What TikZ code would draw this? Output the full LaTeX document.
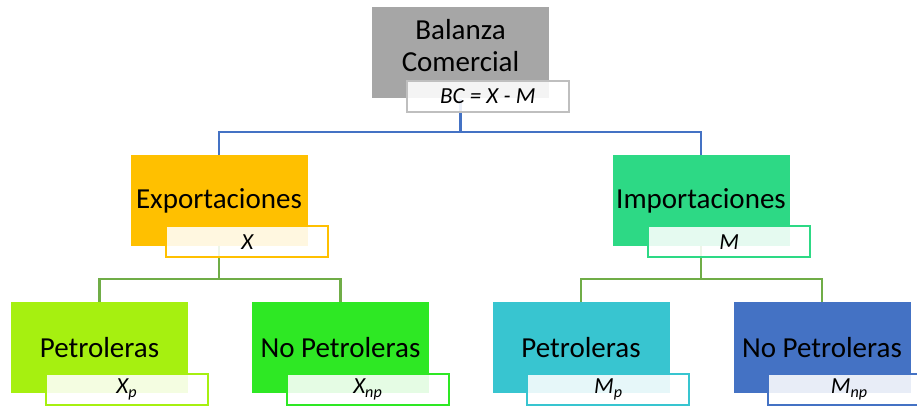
\documentclass[tikz,border=0pt]{standalone}
\usepackage{fontspec}
\setmainfont{Carlito}
\usetikzlibrary{positioning}

\definecolor{gris}{HTML}{A6A6A6}
\definecolor{grisclaro}{HTML}{BFBFBF}
\definecolor{naranja}{HTML}{FFC000}
\definecolor{verdem}{HTML}{2DD985}
\definecolor{lima}{HTML}{A6F010}
\definecolor{verdex}{HTML}{2EE824}
\definecolor{cian}{HTML}{38C5D0}
\definecolor{azul}{HTML}{4472C4}
\definecolor{rama}{HTML}{70AD47}

\begin{document}
\begin{tikzpicture}[x=1pt, y=-1pt,
	caja/.style={minimum width=177pt, minimum height=91pt, inner sep=0pt, align=center, font=\fontsize{29}{32}\selectfont},
	etiqueta/.style={draw, line width=2pt, fill=white, fill opacity=0.88, text opacity=1, anchor=north west, minimum width=162pt, minimum height=31pt, inner sep=0pt, font=\fontsize{23}{26}\selectfont\itshape},
	linea/.style={line width=2.2pt}]
		\useasboundingbox (0, 0) rectangle (917, 406);

		\draw (460.5, 53) 	node[caja, fill=gris, text depth=16pt] (bc) {Balanza\\Comercial};
		\draw (219, 200.5) 	node[caja, fill=naranja] (x) 	{Exportaciones};
		\draw (701, 200.5) 	node[caja, fill=verdem] (m) 	{Importaciones};
		\draw (99.5, 347.5) node[caja, fill=lima] (xp) 		{Petroleras};
		\draw (340.5, 347.5) node[caja, fill=verdex] (xnp) 	{No Petroleras};
		\draw (581, 347.5) 	node[caja, fill=cian] (mp) 		{Petroleras};
		\draw (822, 347.5) 	node[caja, fill=azul] (mnp) 	{No Petroleras};

		\draw[linea, azul] (bc.south) -- ++(0, 33.5) -| (x.north);
		\draw[linea, azul] (bc.south) -- ++(0, 33.5) -| (m.north);
		\draw[linea, rama] (x.south) -- ++(0, 32.5) -| (xp.north);
		\draw[linea, rama] (x.south) -- ++(0, 32.5) -| (xnp.north);
		\draw[linea, rama] (m.south) -- ++(0, 32.5) -| (mp.north);
		\draw[linea, rama] (m.south) -- ++(0, 32.5) -| (mnp.north);

		\node[etiqueta, draw=grisclaro] (bcl) at ([xshift=34pt, yshift=19pt]bc.south west) {BC = X - M};
		\node[etiqueta, draw=naranja] (xl) at ([xshift=35pt, yshift=21pt]x.south west) {X};
		\node[etiqueta, draw=verdem] (ml) at ([xshift=35pt, yshift=21pt]m.south west) {M};
		\node[etiqueta, draw=lima] (xpl) at ([xshift=34pt, yshift=20pt]xp.south west) {X\textsubscript{p}};
		\node[etiqueta, draw=verdex] (xnpl) at ([xshift=34pt, yshift=20pt]xnp.south west) {X\textsubscript{np}};
		\node[etiqueta, draw=cian] (mpl) at ([xshift=34pt, yshift=20pt]mp.south west) {M\textsubscript{p}};
		\node[etiqueta, draw=azul] (mnpl) at ([xshift=34pt, yshift=20pt]mnp.south west) {M\textsubscript{np}};
	\end{tikzpicture}
\end{document}
